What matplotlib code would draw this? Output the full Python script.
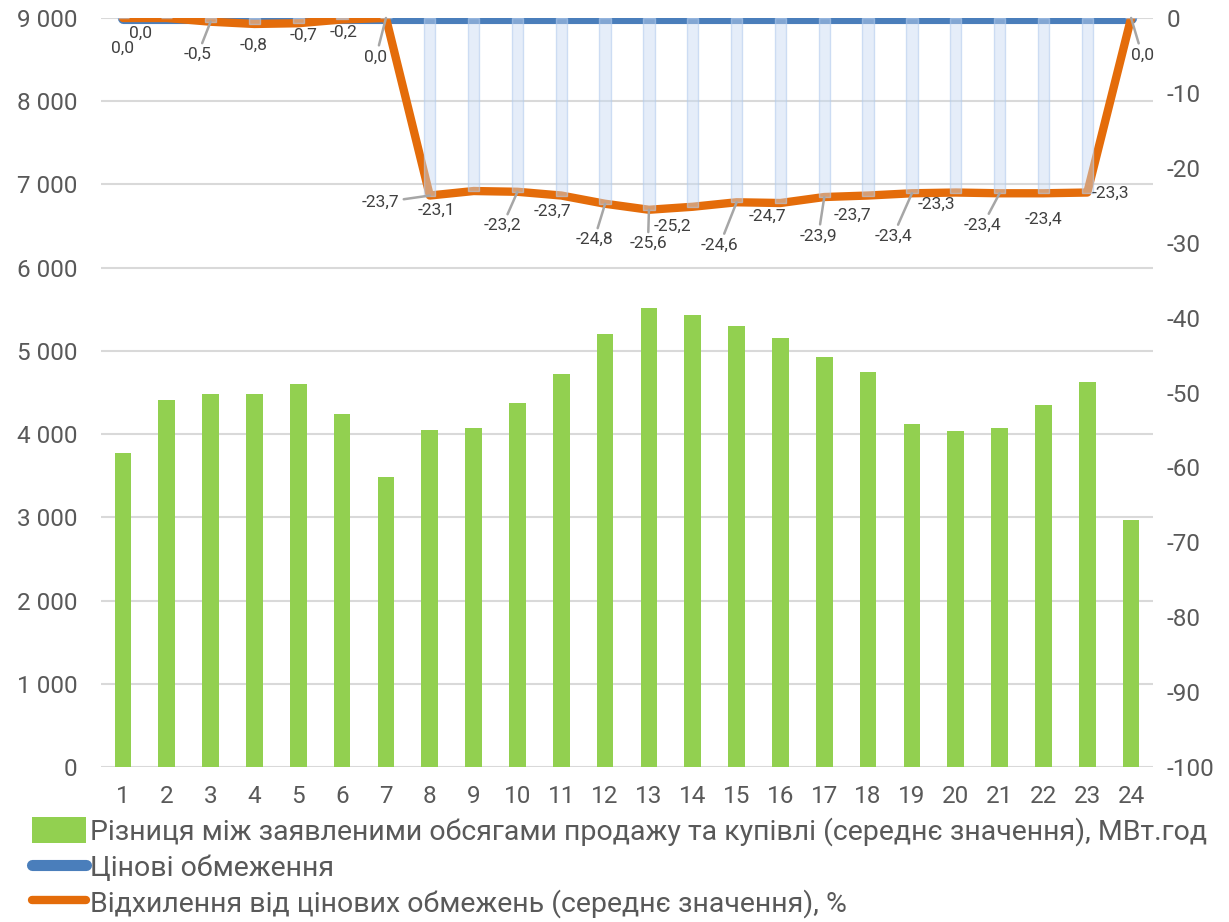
import matplotlib
matplotlib.use("Agg")
import matplotlib.pyplot as plt
from matplotlib.patches import Patch
from matplotlib.lines import Line2D
from matplotlib.ticker import FuncFormatter, MultipleLocator

plt.rcParams['font.family'] = ['Roboto', 'DejaVu Sans']
plt.rcParams['axes.unicode_minus'] = False

hours = list(range(1, 25))
volume_diff = [3770, 4410, 4485, 4485, 4597, 4240, 3487, 4048, 4080, 4369, 4719, 5208,
               5513, 5436, 5296, 5152, 4923, 4743, 4128, 4036, 4080, 4353, 4632, 2972]
price_limits = [0] * 24
deviation = [0.0, 0.0, -0.5, -0.8, -0.7, -0.2, 0.0, -23.7, -23.1, -23.2, -23.7, -24.8,
             -25.6, -25.2, -24.6, -24.7, -23.9, -23.7, -23.4, -23.3, -23.4, -23.4, -23.3, 0.0]

labels = ["Різниця між заявленими обсягами продажу та купівлі (середнє значення), МВт.год",
          "Цінові обмеження",
          "Відхилення від цінових обмежень (середнє значення), %"]

# label offsets in pixels (dx, dy downwards) and whether a leader line is drawn
label_offsets = [(0, 30, 0), (-26, 15, 0), (-13, 33, 1), (-1, 21, 0), (5, 12, 0), (1, 13, 0),
                 (-10, 39, 1), (-49, 7, 1), (-37, 19, 0), (-15, 34, 1), (-9, 16, 0), (-11, 36, 1),
                 (-1, 34, 1), (-20, 20, 0), (-17, 43, 1), (-13, 13, 0), (-6, 39, 1), (-16, 20, 0),
                 (-19, 43, 1), (-19, 12, 0), (-17, 32, 1), (0, 26, 0), (23, 1, 0), (11, 37, 1)]

green = '#92d050'
blue = '#4a7ebb'
orange = '#e46c0a'
text_col = '#595959'

fig = plt.figure(figsize=(12.29, 9.22), dpi=100)
ax = fig.add_axes([0.0822, 0.168, 0.856, 0.8125])

ax.bar(hours, volume_diff, width=0.38, color=green, zorder=2)
ax.set_xlim(0.5, 24.5)
ax.set_ylim(0, 9000)
ax.yaxis.set_major_locator(MultipleLocator(1000))
ax.yaxis.set_major_formatter(FuncFormatter(lambda v, p: f"{int(v):,}".replace(",", " ")))
ax.set_xticks(hours)
ax.grid(axis='y', color='#d9d9d9', linewidth=1.5, zorder=0)
ax.set_axisbelow(True)
for s in ax.spines.values():
    s.set_visible(False)
ax.tick_params(axis='y', length=0, pad=17, labelsize=17.5, labelcolor=text_col)
ax.tick_params(axis='x', length=0, pad=13, labelsize=17.5, labelcolor=text_col)

ax2 = ax.twinx()
ax2.set_ylim(-100, 0)
ax2.yaxis.set_major_locator(MultipleLocator(10))
for s in ax2.spines.values():
    s.set_visible(False)
ax2.tick_params(axis='y', length=0, pad=10, labelsize=17.5, labelcolor=text_col)

ax2.plot(hours, price_limits, color=blue, linewidth=8, solid_capstyle='round', zorder=3)
ax2.plot(hours, deviation, color=orange, linewidth=6, solid_capstyle='round',
         solid_joinstyle='round', zorder=4)
ax2.bar(hours, deviation, width=0.26, color=(0.78, 0.85, 0.95, 0.45),
        edgecolor=(0.70, 0.80, 0.93, 0.6), linewidth=1, zorder=5)

for h, v, (dx, dy, lead) in zip(hours, deviation, label_offsets):
    txt = f"{v:.1f}".replace(".", ",")
    arrow = dict(arrowstyle='-', color='#a6a6a6', lw=1.8, shrinkA=1, shrinkB=0) if lead else None
    ax2.annotate(txt, xy=(h, v), xytext=(dx, -dy), textcoords='offset pixels',
                 ha='center', va='center', fontsize=12.5, color='#404040',
                 arrowprops=arrow, zorder=6)

handles = [Patch(facecolor=green, edgecolor='none'),
           Line2D([0], [0], color=blue, linewidth=8, solid_capstyle='round'),
           Line2D([0], [0], color=orange, linewidth=6, solid_capstyle='round')]
fig.legend(handles, labels, loc='upper left', bbox_to_anchor=(0.0145, 0.129),
           frameon=False, fontsize=20.5, handlelength=1.9, handleheight=1.0,
           handletextpad=0.15, labelspacing=0.25, borderpad=0, labelcolor=text_col)

fig.savefig('out.png', dpi=100)
